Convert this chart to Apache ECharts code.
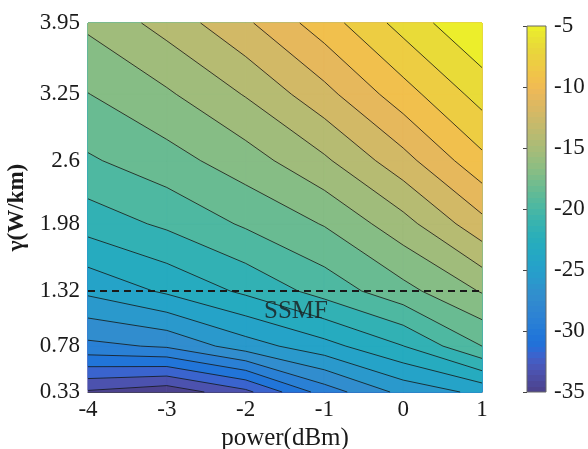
<!DOCTYPE html>
<html><head><meta charset="utf-8">
<script src="https://cdn.jsdelivr.net/npm/echarts@6/dist/echarts.min.js"></script>
<style>html,body{margin:0;padding:0;background:#fff}#c{width:588px;height:449px}</style>
</head><body><div id="c"></div>
<script>
// ---------------- data ----------------
const powers = [-4, -3, -2, -1, 0, 1];                    // power (dBm), columns
const gammas = [0.33, 0.78, 1.32, 1.98, 2.6, 3.25, 3.95]; // gamma (W/km), rows
const gammaTicks = [0.33, 0.78, 1.32, 1.98, 2.6, 3.25, 3.95];
// value rows (one per gamma, left->right along powers)
const zG033 = [-33.7, -34.5, -32.4, -28.3, -25.54, -24.1];
const zG078 = [-27.9, -27.3, -25.2, -23.55, -21.53, -18.5];
const zG132 = [-24.18, -22.75, -21.2, -19.4, -17.5, -15.38];
const zG198 = [-20.85, -19.72, -18.29, -16.9, -14.57, -11.48];
const zG260 = [-18.7, -17.6, -16.2, -14.26, -11.55, -8.4];
const zG325 = [-17.04, -15.72, -13.9, -11.5, -8.65, -5.9];
const zG395 = [-15.2, -13.43, -11.26, -8.70, -5.93, -3.5];
const Z = [zG033, zG078, zG132, zG198, zG260, zG325, zG395];
const levels = [-33.5, -32, -30.5, -29, -27.5, -26, -24.5, -23, -21.5, -20,
                -18.5, -17, -15.5, -14, -12.5, -11, -9.5, -8, -6.5, -5];
const cMin = -35, cMax = -5;
const ssmfGamma = 1.32;
const ssmfLabelPos = [-1.36, 1.12];
const ssmfText = 'SSMF';

// parula colormap (64)
const PARULA = [
[0.2081,0.1663,0.5292],[0.2116,0.1898,0.5777],[0.2123,0.2138,0.6270],[0.2081,0.2386,0.6771],
[0.1959,0.2645,0.7279],[0.1707,0.2919,0.7792],[0.1253,0.3242,0.8303],[0.0591,0.3598,0.8683],
[0.0117,0.3875,0.8820],[0.0060,0.4086,0.8828],[0.0165,0.4266,0.8786],[0.0329,0.4430,0.8720],
[0.0498,0.4586,0.8641],[0.0629,0.4737,0.8554],[0.0723,0.4887,0.8467],[0.0779,0.5040,0.8384],
[0.0793,0.5200,0.8312],[0.0749,0.5375,0.8263],[0.0641,0.5570,0.8240],[0.0488,0.5772,0.8228],
[0.0343,0.5966,0.8199],[0.0265,0.6137,0.8135],[0.0239,0.6287,0.8038],[0.0231,0.6418,0.7913],
[0.0228,0.6535,0.7768],[0.0267,0.6642,0.7607],[0.0384,0.6743,0.7436],[0.0590,0.6838,0.7254],
[0.0843,0.6928,0.7062],[0.1133,0.7015,0.6859],[0.1453,0.7098,0.6646],[0.1801,0.7177,0.6424],
[0.2178,0.7250,0.6193],[0.2586,0.7317,0.5954],[0.3022,0.7376,0.5712],[0.3482,0.7424,0.5473],
[0.3953,0.7459,0.5244],[0.4420,0.7481,0.5033],[0.4871,0.7491,0.4840],[0.5300,0.7491,0.4661],
[0.5709,0.7485,0.4494],[0.6099,0.7473,0.4337],[0.6473,0.7456,0.4188],[0.6834,0.7435,0.4044],
[0.7184,0.7411,0.3905],[0.7525,0.7384,0.3768],[0.7858,0.7356,0.3633],[0.8185,0.7327,0.3498],
[0.8507,0.7299,0.3360],[0.8824,0.7274,0.3217],[0.9139,0.7258,0.3063],[0.9450,0.7261,0.2886],
[0.9739,0.7314,0.2666],[0.9938,0.7455,0.2403],[0.9990,0.7653,0.2164],[0.9955,0.7861,0.1967],
[0.9880,0.8066,0.1794],[0.9789,0.8271,0.1633],[0.9697,0.8481,0.1475],[0.9626,0.8705,0.1309],
[0.9589,0.8949,0.1132],[0.9598,0.9218,0.0948],[0.9661,0.9514,0.0755],[0.9763,0.9831,0.0538]];
function rgbOf(c){ return 'rgb(' + c.map(x => Math.round(x*255*0.82 + 32)).join(',') + ')'; }
function colorFor(v){
  let idx = Math.floor((v - cMin) / (cMax - cMin) * 64);
  idx = Math.max(0, Math.min(63, idx));
  return rgbOf(PARULA[idx]);
}
function clipGE(poly, L){
  const out = [];
  for (let k = 0; k < poly.length; k++){
    const a = poly[k], b = poly[(k+1) % poly.length];
    const ain = a.v >= L, bin = b.v >= L;
    if (ain) out.push(a);
    if (ain !== bin){
      const t = (L - a.v) / (b.v - a.v);
      out.push({x: a.x + t*(b.x-a.x), y: a.y + t*(b.y-a.y), v: L});
    }
  }
  return out;
}
function segs(quad, L){
  const pts = [];
  for (let k = 0; k < 4; k++){
    const a = quad[k], b = quad[(k+1)%4];
    if ((a.v >= L) !== (b.v >= L)){
      const t = (L - a.v) / (b.v - a.v);
      pts.push([a.x + t*(b.x-a.x), a.y + t*(b.y-a.y)]);
    }
  }
  if (pts.length === 2) return [[pts[0], pts[1]]];
  if (pts.length === 4) return [[pts[0], pts[1]], [pts[2], pts[3]]];
  return [];
}
function allQuads(api){
  const qs = [];
  for (let j = 0; j < gammas.length - 1; j++)
    for (let i = 0; i < powers.length - 1; i++)
      qs.push([[i,j],[i+1,j],[i+1,j+1],[i,j+1]].map(([a,b]) => {
        const p = api.coord([powers[a], gammas[b]]);
        return {x: p[0], y: p[1], v: Z[b][a]};
      }));
  return qs;
}
// one fill item per level (index -1 = everything below the first level)
const fillItems = [[powers[0], gammas[0], -1]].concat(levels.map((L, k) => [powers[0], gammas[0], k]));

const FONT = 'Liberation Serif';
const chart = echarts.init(document.getElementById('c'));
chart.setOption({
  animation: false,
  grid: [
    {left: 88, top: 23, width: 394, height: 369, outerBoundsMode: 'none', containLabel: false},
    {left: 527, top: 26, width: 19, height: 366, outerBoundsMode: 'none', containLabel: false}
  ],
  xAxis: [
    {type: 'value', gridIndex: 0, min: -4, max: 1, interval: 1,
     axisLine: {show: true, lineStyle: {color: '#444', width: 1.2}},
     axisTick: {show: false}, splitLine: {show: false},
     axisLabel: {fontFamily: FONT, fontSize: 23, color: '#1a1a1a', margin: 6},
     name: 'power(dBm)', nameLocation: 'middle', nameGap: 32,
     nameTextStyle: {fontFamily: FONT, fontSize: 25, color: '#1a1a1a'}},
    {type: 'value', gridIndex: 1, min: 0, max: 1, show: false}
  ],
  yAxis: [
    {type: 'value', gridIndex: 0, min: 0.33, max: 3.95,
     axisLine: {show: true, lineStyle: {color: '#444', width: 1.2}},
     axisTick: {show: false}, splitLine: {show: false},
     axisLabel: {fontFamily: FONT, fontSize: 23, color: '#1a1a1a', margin: 8,
                 customValues: gammaTicks, formatter: v => String(v)},
     name: 'γ(W/km)', nameLocation: 'middle', nameGap: 53,
     nameTextStyle: {fontFamily: FONT, fontSize: 23, fontWeight: 'bold', color: '#1a1a1a'}},
    {type: 'value', gridIndex: 1, min: cMin, max: cMax, interval: 5, position: 'right',
     axisLine: {show: false}, splitLine: {show: false},
     axisTick: {show: true, inside: true, length: 4, lineStyle: {color: '#444'}},
     axisLabel: {fontFamily: FONT, fontSize: 23, color: '#1a1a1a', margin: 8}}
  ],
  series: [
    {type: 'custom', xAxisIndex: 0, yAxisIndex: 0, data: fillItems, silent: true, z: 1,
     encode: {x: 0, y: 1},
     renderItem: function(params, api){
       const k = api.value(2);
       const quads = allQuads(api);
       const children = [];
       quads.forEach(quad => {
         const p = k < 0 ? quad : clipGE(quad, levels[k]);
         if (p.length >= 3){
           const c = colorFor(k < 0 ? cMin : levels[k]);
           children.push({type: 'polygon', shape: {points: p.map(q => [q.x, q.y])},
                          style: {fill: c, stroke: c, lineWidth: 0.8}});
         }
       });
       return {type: 'group', children};
     }},
    {type: 'custom', xAxisIndex: 0, yAxisIndex: 0, data: [[powers[0], gammas[0]]], silent: true, z: 2,
     encode: {x: 0, y: 1},
     renderItem: function(params, api){
       const quads = allQuads(api);
       const children = [];
       quads.forEach(quad => levels.forEach(L => {
         segs(quad, L).forEach(s => children.push({type: 'line',
           shape: {x1: s[0][0], y1: s[0][1], x2: s[1][0], y2: s[1][1]},
           style: {stroke: '#151515', lineWidth: 0.8}}));
       }));
       return {type: 'group', children};
     }},
    {type: 'line', xAxisIndex: 0, yAxisIndex: 0, z: 3, silent: true, symbol: 'none',
     data: [[powers[0], ssmfGamma], [powers[powers.length-1], ssmfGamma]],
     lineStyle: {color: '#1a1a1a', width: 2, type: [7, 5]}},
    {type: 'scatter', xAxisIndex: 0, yAxisIndex: 0, z: 4, silent: true, symbolSize: 0,
     data: [ssmfLabelPos],
     label: {show: true, position: 'inside', formatter: ssmfText,
             fontFamily: FONT, fontSize: 25, color: '#1a1a1a'}},
    {type: 'custom', xAxisIndex: 1, yAxisIndex: 1, silent: true, data: [[0, cMin]],
     renderItem: function(params, api){
       const p0 = api.coord([0, cMin]), p1 = api.coord([1, cMax]);
       const stops = [];
       PARULA.forEach((c, k) => {
         stops.push({offset: k/64, color: rgbOf(c)});
         stops.push({offset: (k+1)/64, color: rgbOf(c)});
       });
       return {type: 'rect',
         shape: {x: p0[0], y: p1[1], width: p1[0]-p0[0], height: p0[1]-p1[1]},
         style: {fill: new echarts.graphic.LinearGradient(0, 1, 0, 0, stops),
                 stroke: '#666', lineWidth: 1}};
     }}
  ]
});
</script></body></html>
